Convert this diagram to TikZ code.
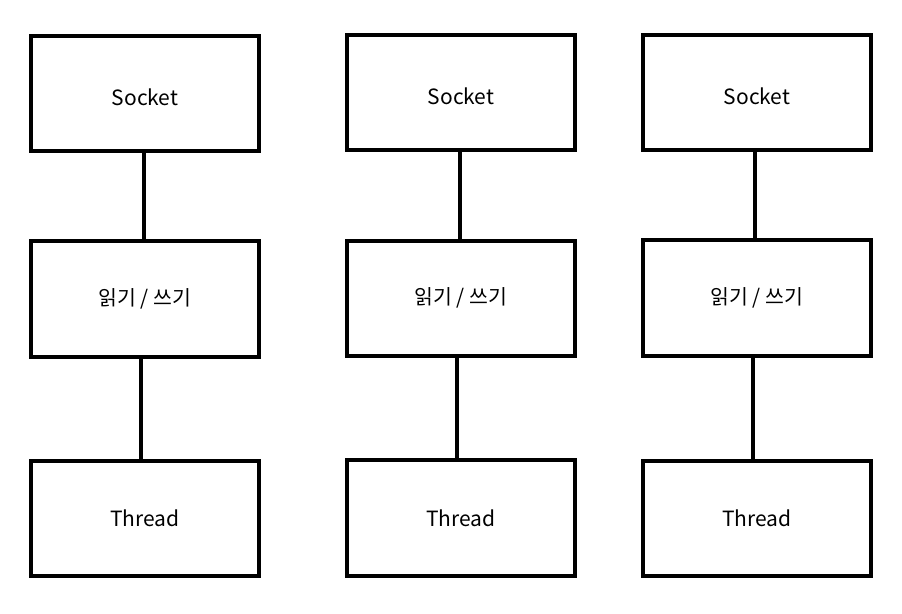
\documentclass[tikz,border=0pt]{standalone}
\usepackage{fontspec}
\setmainfont{Noto Sans CJK KR}
\begin{document}
\begin{tikzpicture}[x=1pt,y=-1pt,
  box/.style={draw=black,line width=4pt,rectangle,minimum width=228pt,minimum height=115pt,outer sep=0pt,inner sep=0pt,font=\fontsize{21}{25}\selectfont},
  sock/.style={box,text height=23pt,text depth=0pt},
  kor/.style={box,font=\fontsize{20.5}{25}\selectfont},
  link/.style={draw=black,line width=4pt}]
\path[use as bounding box] (0,0) rectangle (902,613);
% column 1
\node[sock] (s1) at (145,93.5) {Socket};
\node[kor,minimum height=116pt] (r1) at (145,299) {읽기 / 쓰기};
\node[box] (t1) at (145,518.5) {Thread};
% column 2
\node[sock] (s2) at (461,92.5) {Socket};
\node[kor,minimum height=115pt] (r2) at (461,298) {읽기 / 쓰기};
\node[box,minimum height=116pt] (t2) at (461,518) {Thread};
% column 3
\node[sock] (s3) at (757,92.5) {Socket};
\node[kor,minimum height=116pt] (r3) at (757,298) {읽기 / 쓰기};
\node[box] (t3) at (757,518.5) {Thread};
% connectors
\draw[link] ([xshift=-1pt]s1.south) -- ([xshift=-1pt]s1.south |- r1.north);
\draw[link] ([xshift=-4pt]r1.south) -- ([xshift=-4pt]r1.south |- t1.north);
\draw[link] ([xshift=-1pt]s2.south) -- ([xshift=-1pt]s2.south |- r2.north);
\draw[link] ([xshift=-4pt]r2.south) -- ([xshift=-4pt]r2.south |- t2.north);
\draw[link] ([xshift=-2pt]s3.south) -- ([xshift=-2pt]s3.south |- r3.north);
\draw[link] ([xshift=-4pt]r3.south) -- ([xshift=-4pt]r3.south |- t3.north);
\end{tikzpicture}
\end{document}
